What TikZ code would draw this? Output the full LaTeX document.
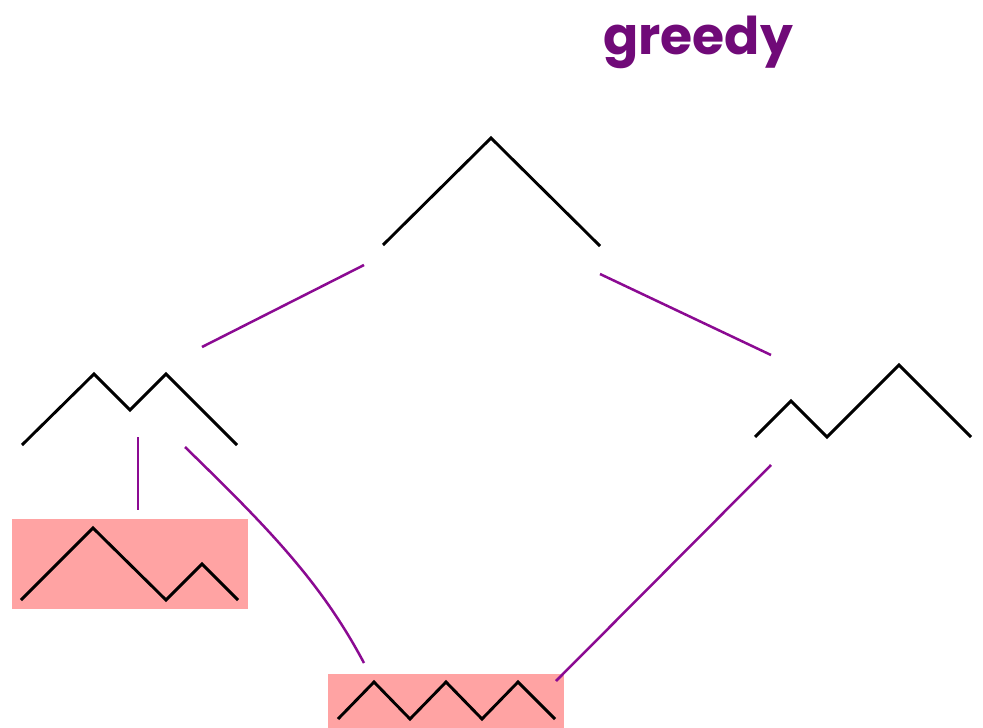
\documentclass[tikz,border=0pt]{standalone}
\usepackage{fontspec}
\newfontfamily\titlefont{Poppins}
\definecolor{edgepurple}{HTML}{8B0A92}
\definecolor{titlepurple}{HTML}{700A78}
\definecolor{boxpink}{HTML}{FFA3A3}
\begin{document}
\begin{tikzpicture}[x=1pt,y=-1pt,
  mount/.style={line width=2.9pt,black,line join=miter},
  edge/.style={line width=2.5pt,edgepurple},
  pinkbox/.style={fill=boxpink,draw=none}]
\useasboundingbox (0,0) rectangle (983,728);
% title
\node[text=titlepurple,font=\titlefont\bfseries\fontsize{52}{60}\selectfont] (title) at (698,42) {greedy};
% boxes
\fill[pinkbox] (12,519) rectangle (248,609);
\fill[pinkbox] (328,674) rectangle (564,728);
% mountains
\draw[mount] (383,245) -- (491,138) -- (600,246);
\draw[mount] (22,445) -- (94,374) -- (130,410) -- (166,374) -- (237,445);
\draw[mount] (755,437) -- (791,401) -- (827,437) -- (899,365) -- (971,437);
\draw[mount] (21,600) -- (93,528) -- (166,600) -- (202,564) -- (238,600);
\draw[mount] (338,719) -- (374,682) -- (410,719) -- (446,682) -- (482,719) -- (518,682) -- (555,719);
% connector ends
\coordinate (a1) at (364,265); \coordinate (a2) at (202,347);
\coordinate (b1) at (600,274); \coordinate (b2) at (771,355);
\coordinate (c1) at (138,437); \coordinate (c2) at (138,510);
\coordinate (d1) at (185,447); \coordinate (d2) at (364,663);
\coordinate (e1) at (771,465); \coordinate (e2) at (556,681);
\draw[edge] (a1) -- (a2);
\draw[edge] (b1) -- (b2);
\draw[edge] (c1) -- (c2);
\draw[edge] (d1) .. controls (265,525) and (320,580) .. (d2);
\draw[edge] (e1) -- (e2);
\end{tikzpicture}
\end{document}
